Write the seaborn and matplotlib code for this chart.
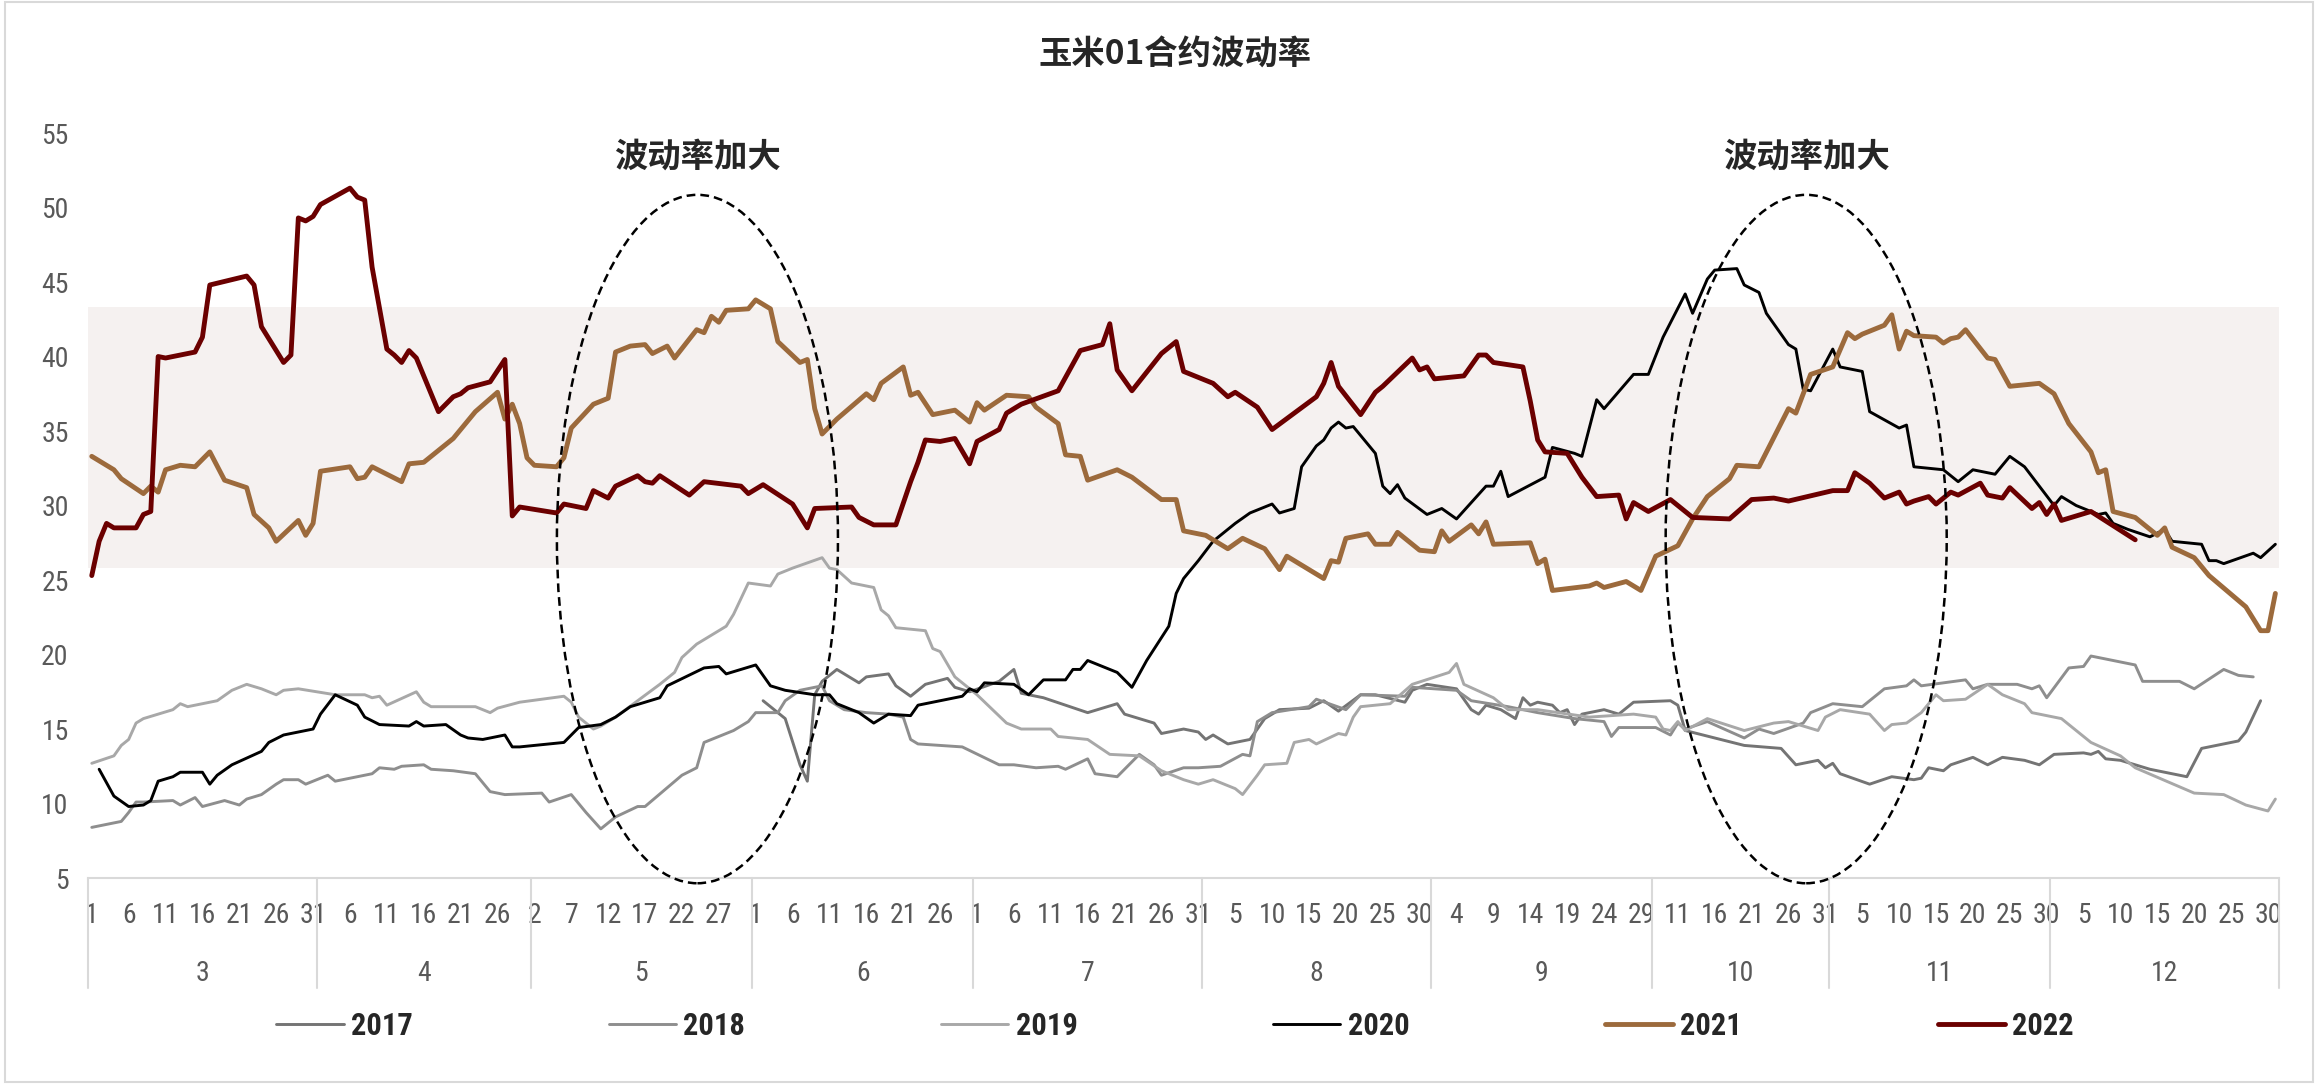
import seaborn as sns
import matplotlib
matplotlib.use('Agg')
import matplotlib.pyplot as plt
from matplotlib import font_manager
from matplotlib.patches import Ellipse, Rectangle
from matplotlib.transforms import blended_transform_factory
import numpy as np
import pandas as pd

# category axis: trading calendar, month with first / last day shown
months = [3, 4, 5, 6, 7, 8, 9, 10, 11, 12]
first_day = [1, 2, 2, 1, 1, 1, 1, 8, 1, 1]
last_day = [31, 30, 31, 30, 31, 31, 30, 31, 30, 31]

years = ['2017', '2018', '2019', '2020', '2021', '2022']
colors = ['#747474', '#8e8e8e', '#a8a8a8', '#000000', '#9c6a3c', '#6b0000']
widths = [2.1, 2.1, 2.1, 2.1, 3.5, 3.5]

# values: x = position on the day axis, y = volatility
x2017 = [91, 94, 96, 97, 98, 99, 101, 104, 105, 108, 109, 111, 113, 116, 117, 119, 123, 125, 126, 129,
         132, 135, 139, 140, 144, 145, 148, 150, 151, 152, 154, 157, 159, 161, 165, 167, 169, 172, 174, 178,
         179, 181, 185, 187, 188, 189, 191, 193, 194, 195, 196, 198, 199, 200, 201, 202, 205, 207, 209, 214,
         215, 216, 224, 229, 231, 234, 235, 236, 237, 241, 244, 247, 248, 249, 251, 252, 255, 257, 259, 262,
         264, 266, 270, 271, 272, 273, 275, 279, 283, 284, 286, 291, 292, 294]
y2017 = [16.9, 15.7, 12.6, 11.5, 17.3, 18.2, 19.0, 18.1, 18.5, 18.7, 17.9, 17.2, 18.0, 18.4, 17.8, 17.5, 18.2, 19.0, 17.4, 17.1,
         16.6, 16.1, 16.7, 16.0, 15.4, 14.7, 15.0, 14.8, 14.3, 14.6, 14.0, 14.3, 15.7, 16.3, 16.4, 16.9, 16.2, 17.3, 17.3, 16.8,
         17.6, 18.0, 17.7, 16.3, 16.0, 16.6, 16.3, 15.7, 17.1, 16.6, 16.8, 16.6, 16.1, 16.3, 15.3, 16.0, 16.3, 16.0, 16.8, 16.9,
         16.6, 14.9, 13.9, 13.7, 12.6, 12.9, 12.4, 12.7, 12.0, 11.3, 11.8, 11.6, 11.7, 12.4, 12.2, 12.6, 13.1, 12.6, 13.1, 12.9,
         12.6, 13.3, 13.4, 13.3, 13.5, 13.0, 12.9, 12.3, 11.9, 11.8, 13.7, 14.2, 14.8, 16.9]

x2018 = [0, 4, 5, 6, 7, 11, 12, 14, 15, 18, 20, 21, 23, 25, 26, 28, 29, 32, 33, 38,
         39, 41, 42, 45, 46, 49, 52, 54, 56, 61, 62, 65, 67, 69, 71, 74, 75, 80, 82, 83,
         87, 89, 90, 93, 94, 96, 99, 100, 102, 105, 108, 110, 111, 112, 118, 123, 125, 128, 131, 132,
         135, 136, 139, 142, 144, 145, 148, 150, 153, 156, 157, 158, 160, 165, 166, 170, 172, 178, 179, 185,
         187, 192, 196, 201, 205, 206, 207, 212, 214, 215, 216, 219, 224, 226, 228, 232, 233, 236, 240, 243,
         246, 247, 248, 254, 255, 257, 261, 263, 264, 265, 268, 270, 271, 277, 278, 283, 285, 289, 291, 293]
y2018 = [8.4, 8.8, 9.4, 10.1, 10.1, 10.2, 9.9, 10.4, 9.8, 10.2, 9.9, 10.3, 10.6, 11.3, 11.6, 11.6, 11.3, 11.9, 11.5, 12.0,
         12.4, 12.3, 12.5, 12.6, 12.3, 12.2, 12.0, 10.8, 10.6, 10.7, 10.1, 10.6, 9.4, 8.3, 9.1, 9.8, 9.8, 11.9, 12.4, 14.1,
         14.9, 15.5, 16.1, 16.1, 16.9, 17.6, 17.9, 16.9, 16.3, 16.1, 16.0, 15.8, 14.3, 14.0, 13.8, 12.6, 12.6, 12.4, 12.5, 12.3,
         13.0, 12.0, 11.8, 13.3, 12.6, 11.9, 12.4, 12.4, 12.5, 13.3, 13.2, 15.5, 16.1, 16.5, 17.0, 16.3, 17.3, 17.2, 17.8, 17.6,
         16.9, 16.5, 16.1, 15.7, 15.5, 14.5, 15.1, 15.1, 14.6, 15.4, 15.0, 15.5, 14.4, 15.0, 14.7, 15.4, 16.1, 16.7, 16.5, 17.7,
         17.9, 18.3, 17.9, 18.3, 17.7, 18.0, 18.0, 17.7, 17.9, 17.1, 19.1, 19.2, 19.9, 19.3, 18.2, 18.2, 17.7, 19.0, 18.6, 18.5]

x2019 = [0, 3, 4, 5, 6, 7, 11, 12, 13, 17, 19, 21, 23, 25, 26, 28, 33, 37, 38, 39,
         40, 44, 45, 46, 52, 54, 55, 58, 64, 65, 66, 68, 69, 71, 74, 77, 79, 80, 82, 86,
         87, 89, 92, 93, 95, 99, 100, 101, 103, 106, 107, 108, 109, 113, 114, 115, 117, 119, 120, 124,
         126, 130, 131, 135, 138, 142, 145, 148, 150, 152, 155, 156, 158, 159, 162, 163, 165, 166, 169, 170,
         171, 172, 176, 179, 184, 185, 186, 190, 192, 196, 203, 209, 212, 213, 214, 215, 216, 219, 224, 228,
         230, 232, 234, 235, 237, 241, 243, 244, 246, 248, 250, 251, 254, 257, 259, 262, 263, 267, 271, 275,
         277, 285, 289, 292, 295, 296]
y2019 = [12.7, 13.2, 13.9, 14.3, 15.4, 15.7, 16.3, 16.7, 16.5, 16.9, 17.6, 18.0, 17.7, 17.3, 17.6, 17.7, 17.3, 17.3, 17.1, 17.2,
         16.6, 17.5, 16.8, 16.5, 16.5, 16.1, 16.4, 16.8, 17.2, 16.8, 15.8, 15.0, 15.2, 15.8, 16.9, 18.0, 18.8, 19.8, 20.7, 21.9,
         22.7, 24.8, 24.6, 25.4, 25.8, 26.5, 25.8, 25.7, 24.8, 24.5, 23.0, 22.6, 21.8, 21.6, 20.4, 20.2, 18.5, 17.7, 17.3, 15.4,
         15.0, 15.0, 14.5, 14.3, 13.3, 13.2, 12.2, 11.6, 11.3, 11.6, 11.0, 10.6, 11.9, 12.6, 12.7, 14.1, 14.3, 14.0, 14.7, 14.6,
         15.8, 16.5, 16.7, 18.0, 18.8, 19.4, 18.0, 17.1, 16.3, 16.3, 15.8, 16.0, 15.8, 15.0, 14.9, 15.5, 14.9, 15.7, 14.9, 15.4,
         15.5, 15.2, 14.9, 15.8, 16.3, 16.0, 14.9, 15.3, 15.4, 16.1, 17.3, 16.9, 17.0, 18.0, 17.3, 16.7, 16.1, 15.7, 14.1, 13.2,
         12.4, 10.7, 10.6, 9.9, 9.5, 10.3]

x2020 = [1, 3, 5, 7, 8, 9, 11, 12, 15, 16, 17, 19, 23, 24, 26, 30, 31, 33, 36, 37,
         39, 43, 44, 45, 48, 50, 51, 53, 56, 57, 58, 64, 66, 69, 71, 73, 77, 78, 83, 85,
         86, 90, 92, 94, 98, 100, 101, 104, 106, 108, 111, 112, 118, 119, 120, 121, 125, 127, 129, 132,
         133, 134, 135, 139, 141, 143, 146, 147, 148, 150, 152, 155, 157, 160, 161, 163, 164, 166, 167, 168,
         169, 170, 171, 174, 175, 176, 177, 178, 181, 183, 185, 189, 190, 191, 192, 197, 198, 201, 202, 204,
         205, 209, 211, 213, 216, 217, 219, 220, 223, 224, 226, 227, 230, 231, 232, 233, 236, 237, 240, 241,
         245, 246, 247, 251, 253, 255, 258, 260, 262, 266, 267, 269, 272, 273, 274, 276, 279, 281, 282, 286,
         287, 288, 289, 293, 294, 296]
y2020 = [12.3, 10.5, 9.8, 9.9, 10.2, 11.5, 11.8, 12.1, 12.1, 11.3, 11.9, 12.6, 13.5, 14.1, 14.6, 15.0, 16.0, 17.3, 16.6, 15.8,
         15.3, 15.2, 15.5, 15.2, 15.3, 14.6, 14.4, 14.3, 14.6, 13.8, 13.8, 14.1, 15.1, 15.3, 15.8, 16.5, 17.1, 17.9, 19.1, 19.2,
         18.7, 19.3, 17.9, 17.6, 17.3, 17.3, 16.7, 16.1, 15.4, 16.0, 15.9, 16.6, 17.2, 17.7, 17.5, 18.1, 18.0, 17.3, 18.3, 18.3,
         19.0, 19.0, 19.6, 18.8, 17.8, 19.6, 21.9, 24.1, 25.1, 26.3, 27.6, 28.8, 29.5, 30.1, 29.5, 29.8, 32.6, 34.0, 34.4, 35.2,
         35.6, 35.2, 35.3, 33.5, 31.3, 30.8, 31.4, 30.5, 29.4, 29.8, 29.1, 31.3, 31.3, 32.3, 30.6, 31.9, 33.9, 33.5, 33.3, 37.1,
         36.5, 38.8, 38.8, 41.3, 44.2, 42.9, 45.2, 45.8, 45.9, 44.8, 44.3, 42.9, 40.8, 40.5, 37.8, 37.7, 40.5, 39.3, 39.0, 36.3,
         35.2, 35.4, 32.6, 32.4, 31.6, 32.4, 32.1, 33.3, 32.6, 30.0, 30.6, 30.0, 29.4, 29.5, 28.8, 28.4, 27.9, 28.4, 27.6, 27.4,
         26.3, 26.3, 26.1, 26.8, 26.5, 27.4]

x2021 = [0, 1, 3, 4, 7, 8, 9, 10, 12, 14, 16, 18, 21, 22, 24, 25, 28, 29, 30, 31,
         35, 36, 37, 38, 42, 43, 45, 49, 50, 52, 55, 56, 57, 58, 59, 60, 63, 64, 65, 68,
         70, 71, 73, 75, 76, 78, 79, 82, 83, 84, 85, 86, 89, 90, 92, 93, 96, 97, 98, 99,
         101, 105, 106, 107, 110, 111, 112, 114, 117, 119, 120, 121, 124, 127, 128, 131, 132, 134, 135, 139,
         141, 145, 147, 148, 151, 154, 156, 159, 161, 162, 167, 168, 169, 170, 173, 174, 176, 177, 180, 182,
         183, 184, 187, 188, 189, 190, 195, 196, 197, 198, 203, 204, 205, 208, 210, 212, 215, 217, 219, 222,
         223, 226, 230, 231, 233, 236, 238, 239, 240, 243, 244, 245, 246, 247, 250, 251, 252, 253, 254, 257,
         258, 260, 264, 266, 268, 271, 272, 273, 274, 277, 280, 281, 282, 285, 287, 292, 294, 295, 296]
y2021 = [33.3, 33.0, 32.4, 31.8, 30.8, 31.3, 30.9, 32.4, 32.7, 32.6, 33.6, 31.7, 31.2, 29.4, 28.5, 27.6, 29.0, 28.0, 28.8, 32.3,
         32.6, 31.8, 31.9, 32.6, 31.6, 32.8, 32.9, 34.5, 35.1, 36.3, 37.6, 35.8, 36.8, 35.5, 33.2, 32.7, 32.6, 33.2, 35.2, 36.8,
         37.2, 40.3, 40.7, 40.8, 40.2, 40.7, 39.9, 41.8, 41.6, 42.7, 42.3, 43.1, 43.2, 43.8, 43.2, 41.0, 39.6, 39.8, 36.5, 34.8,
         35.8, 37.5, 37.1, 38.2, 39.3, 37.4, 37.6, 36.1, 36.4, 35.6, 36.9, 36.4, 37.4, 37.3, 36.6, 35.5, 33.4, 33.3, 31.7, 32.4,
         31.9, 30.4, 30.4, 28.3, 28.0, 27.1, 27.8, 27.1, 25.7, 26.6, 25.1, 26.3, 26.2, 27.8, 28.1, 27.4, 27.4, 28.2, 27.0, 26.9,
         28.3, 27.6, 28.7, 28.1, 28.9, 27.4, 27.5, 26.1, 26.4, 24.3, 24.6, 24.8, 24.5, 24.9, 24.3, 26.6, 27.3, 29.1, 30.6, 31.8,
         32.7, 32.6, 36.5, 36.2, 38.8, 39.3, 41.6, 41.2, 41.5, 42.1, 42.8, 40.5, 41.7, 41.4, 41.3, 40.9, 41.2, 41.3, 41.8, 39.9,
         39.8, 38.0, 38.2, 37.5, 35.5, 33.6, 32.2, 32.4, 29.6, 29.2, 28.0, 28.5, 27.2, 26.5, 25.3, 23.2, 21.6, 21.6, 24.1]

x2022 = [0, 1, 2, 3, 6, 7, 8, 9, 10, 14, 15, 16, 21, 22, 23, 24, 26, 27, 28, 29,
         30, 31, 35, 36, 37, 38, 40, 41, 42, 43, 44, 47, 49, 50, 51, 54, 56, 57, 58, 63,
         64, 67, 68, 70, 71, 74, 75, 76, 77, 81, 83, 88, 89, 91, 95, 97, 98, 103, 104, 106,
         109, 111, 112, 113, 115, 117, 119, 120, 123, 124, 126, 131, 134, 137, 138, 139, 141, 145, 147, 148,
         152, 154, 155, 158, 160, 166, 167, 168, 169, 172, 174, 175, 179, 180, 181, 182, 186, 188, 189, 190,
         194, 195, 196, 197, 200, 202, 204, 207, 208, 209, 211, 214, 217, 222, 225, 228, 230, 236, 238, 239,
         241, 243, 245, 246, 247, 249, 250, 252, 253, 256, 257, 259, 260, 263, 264, 265, 266, 267, 271, 277]
y2022 = [25.3, 27.6, 28.8, 28.5, 28.5, 29.4, 29.6, 40.0, 39.9, 40.3, 41.3, 44.8, 45.4, 44.8, 42.0, 41.2, 39.6, 40.1, 49.3, 49.1,
         49.4, 50.2, 51.3, 50.7, 50.5, 46.0, 40.5, 40.1, 39.6, 40.4, 39.9, 36.3, 37.3, 37.5, 37.9, 38.3, 39.8, 29.3, 29.9, 29.5,
         30.1, 29.8, 31.0, 30.5, 31.3, 32.0, 31.6, 31.5, 32.0, 30.7, 31.6, 31.3, 30.8, 31.4, 30.1, 28.5, 29.8, 29.9, 29.2, 28.7,
         28.7, 31.6, 32.9, 34.4, 34.3, 34.5, 32.8, 34.3, 35.1, 36.2, 36.8, 37.7, 40.4, 40.8, 42.2, 39.1, 37.7, 40.2, 41.0, 39.0,
         38.2, 37.3, 37.6, 36.6, 35.1, 37.3, 38.2, 39.6, 38.0, 36.1, 37.6, 38.0, 39.9, 39.1, 39.3, 38.5, 38.7, 40.1, 40.1, 39.6,
         39.3, 37.0, 34.4, 33.6, 33.5, 31.9, 30.6, 30.7, 29.1, 30.2, 29.6, 30.4, 29.2, 29.1, 30.4, 30.5, 30.3, 31.0, 31.0, 32.2,
         31.5, 30.5, 30.9, 30.1, 30.3, 30.6, 30.1, 30.9, 30.7, 31.5, 30.7, 30.5, 31.2, 29.8, 30.2, 29.4, 30.1, 29.0, 29.6, 27.7]

band_low, band_high = 25.8, 43.3
title = '玉米01合约波动率'
note = '波动率加大'

series_x = [x2017, x2018, x2019, x2020, x2021, x2022]
series_y = [y2017, y2018, y2019, y2020, y2021, y2022]
df = pd.concat([pd.DataFrame({'idx': xs, 'vol': ys, 'year': yr})
                for xs, ys, yr in zip(series_x, series_y, years)], ignore_index=True)

# day labels for the category axis
day_num = []
month_start = []
for m, d0, d1 in zip(months, first_day, last_day):
    month_start.append(len(day_num))
    day_num += list(range(d0, d1 + 1))
n_days = len(day_num)

names = {f.name for f in font_manager.fontManager.ttflist}
narrow = next((n for n in ['Liberation Sans Narrow', 'Roboto Condensed', 'Liberation Sans']
               if n in names), 'DejaVu Sans')
cjk = ['Noto Sans CJK SC', 'DejaVu Sans']

sns.set_theme(style='white')
plt.rcParams['font.family'] = [narrow, 'Noto Sans CJK SC', 'DejaVu Sans']

fig = plt.figure(figsize=(23.18, 10.84), dpi=100)
ax = fig.add_axes([0.038, 0.190, 0.9452, 0.6873])

ax.axhspan(band_low, band_high, color='#f5f1f0', zorder=0, lw=0)

for yr, c, lw in zip(years, colors, widths):
    sns.lineplot(data=df[df.year == yr], x='idx', y='vol', color=c, linewidth=lw,
                 estimator=None, ax=ax, label=yr, zorder=3)
handles, labels = ax.get_legend_handles_labels()
if ax.get_legend():
    ax.get_legend().remove()

ax.set_xlim(-0.5, n_days - 0.5)
ax.set_ylim(5, 55)
ax.set_yticks(np.arange(5, 56, 5))
ax.set_xticks(np.arange(0, n_days, 5))
ax.set_xticklabels([str(day_num[i]) for i in range(0, n_days, 5)])
ax.tick_params(axis='x', length=0, pad=17, labelsize=20, colors='#595959')
ax.tick_params(axis='y', length=0, pad=14, labelsize=20, colors='#595959')
ax.set_xlabel('')
ax.set_ylabel('')
for s in ['top', 'right', 'left']:
    ax.spines[s].set_visible(False)
ax.spines['bottom'].set_color('#d9d9d9')
ax.spines['bottom'].set_linewidth(1.5)

# month row and separators
tr = blended_transform_factory(ax.transData, ax.transAxes)
bounds = month_start + [n_days]
for k, m in enumerate(months):
    ax.text((bounds[k] + bounds[k + 1] - 1) / 2, -0.1275, str(m), transform=tr,
            ha='center', va='center', fontsize=20, color='#595959')
for b in bounds:
    ax.plot([b - 0.5, b - 0.5], [0, -0.148], transform=tr, color='#d9d9d9',
            lw=1.5, clip_on=False)

# highlighted periods
for cx in [82.1, 232.4]:
    ax.add_patch(Ellipse((cx, 27.75), width=38.1, height=46.2, fill=False,
                         edgecolor='black', lw=1.8, linestyle=(0, (3.5, 2)),
                         clip_on=False, zorder=4))
    ax.text(cx, 53.4, note, ha='center', va='center', fontsize=24,
            fontweight='bold', family=cjk, zorder=5)

fig.text(0.507, 0.949, title, ha='center', va='center', fontsize=24,
         fontweight='bold', family=cjk)

fig.legend(handles, labels, loc='center', bbox_to_anchor=(0.507, 0.0535), ncol=6,
           frameon=False, handlelength=2.2, handletextpad=0.25, columnspacing=6.4,
           prop={'family': narrow, 'weight': 'bold', 'size': 22})

fig.patches.append(Rectangle((0.002, 0.002), 0.996, 0.996, transform=fig.transFigure,
                             fill=False, edgecolor='#d9d9d9', lw=1.5))

fig.savefig('out.png', dpi=100)
